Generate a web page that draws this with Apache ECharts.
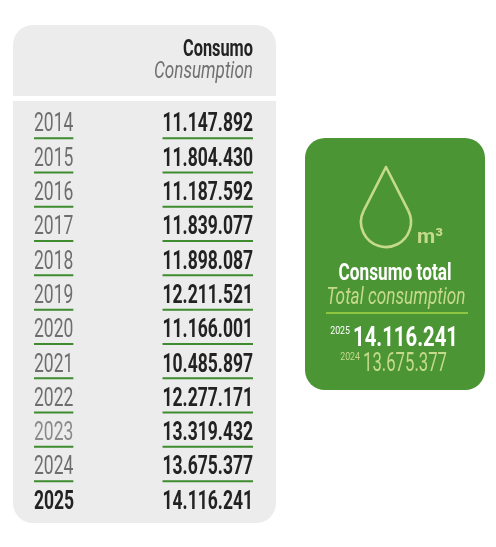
<!DOCTYPE html>
<html><head><meta charset="utf-8">
<script src="https://cdn.jsdelivr.net/npm/echarts@6/dist/echarts.min.js"></script>
<style>html,body{margin:0;padding:0;background:#fff}#c{width:496px;height:547px}</style>
</head><body><div id="c"></div>
<script>
const years = ['2014','2015','2016','2017','2018','2019','2020','2021','2022','2023','2024','2025'];
const consumption = [11147892, 11804430, 11187592, 11839077, 11898087, 12211521, 11166001, 10485897, 12277171, 13319432, 13675377, 14116241];
const headerLabels = ['Consumo', 'Consumption'];
const totalLabels = ['Consumo total', 'Total consumption'];
const unitLabel = 'm³';

const FONT = "Roboto, 'DejaVu Sans', sans-serif";
const SX = 0.70; // horizontal condensing of the table text
function fmt(v){ return String(v).replace(/\B(?=(\d{3})+(?!\d))/g, '.'); }
const mctx = document.createElement('canvas').getContext('2d');
function textW(str, size, weight, style){ mctx.font = (style || 'normal') + ' ' + (weight || 'normal') + ' ' + size + 'px ' + FONT; return mctx.measureText(str).width; }
function fitScale(str, size, weight, style, target){ return target / textW(str, size, weight, style); }

const GREEN_LINE = '#3e8c2f';
const LIGHT = '#c6da8c';
const n = years.length;
const lastI = n - 1, prevI = n - 2;

// drop icon geometry
const dcx = 386, dcy = 222, dr = 25, apexY = 167;
const dd = dcy - apexY;
const phi = Math.acos(dr / dd);
const aR = -Math.PI / 2 + phi, aL = -Math.PI / 2 - phi;
const rx = dcx + dr * Math.cos(aR), ry = dcy + dr * Math.sin(aR);
const lx = dcx + dr * Math.cos(aL), ly = dcy + dr * Math.sin(aL);

function txt(x, y, text, size, weight, style, fill, align, scale) {
  return {type: 'text', z: 1, x: x, y: y, scaleX: scale, scaleY: 1,
    style: {x: 0, y: 0, text: text, fontFamily: FONT, fontSize: size, fontWeight: weight, fontStyle: style, fill: fill, align: align, verticalAlign: 'middle'}};
}

const chart = echarts.init(document.getElementById('c'), null, {renderer: 'canvas'});
chart.setOption({
  animation: false,
  backgroundColor: '#ffffff',
  grid: {left: 13, width: 263, top: 108, height: 411.6},
  xAxis: {type: 'value', min: 0, max: 263, show: false},
  yAxis: {type: 'category', data: years, inverse: true, show: false},
  graphic: [
    {type: 'rect', z: 0, shape: {x: 13, y: 25, width: 263, height: 498, r: 20}, style: {fill: '#ececec'}},
    {type: 'rect', z: 1, shape: {x: 13, y: 96, width: 263, height: 5}, style: {fill: '#ffffff'}},
    txt(253, 50, headerLabels[0], 24, 'bold', 'normal', '#222', 'right', fitScale(headerLabels[0], 24, 'bold', 'normal', 70)),
    txt(253, 72, headerLabels[1], 24, 'normal', 'italic', '#707070', 'right', fitScale(headerLabels[1], 24, 'normal', 'italic', 99)),
    {type: 'rect', z: 0, shape: {x: 305, y: 138, width: 180, height: 252, r: 20}, style: {fill: '#4b9535'}},
    {type: 'arc', z: 1, shape: {cx: dcx, cy: dcy, r: dr, startAngle: aR, endAngle: aL + 2 * Math.PI, clockwise: true}, style: {stroke: LIGHT, lineWidth: 2.6, fill: 'none'}},
    {type: 'polyline', z: 1, shape: {points: [[rx, ry], [dcx, apexY], [lx, ly]]}, style: {stroke: LIGHT, lineWidth: 2.6, fill: 'none', lineJoin: 'round'}},
    txt(417, 238, unitLabel, 21, 'bold', 'normal', LIGHT, 'left', 1),
    txt(395, 274, totalLabels[0], 23, 'bold', 'normal', '#ffffff', 'center', fitScale(totalLabels[0], 23, 'bold', 'normal', 113)),
    txt(396, 298, totalLabels[1], 23, 'normal', 'italic', LIGHT, 'center', fitScale(totalLabels[1], 23, 'normal', 'italic', 139)),
    {type: 'rect', z: 1, shape: {x: 326, y: 312, width: 142, height: 2}, style: {fill: '#8dc63f'}},
    txt(350, 331, years[lastI], 11, 'normal', 'normal', '#ffffff', 'right', 0.8),
    txt(353, 339, fmt(consumption[lastI]), 28, 'bold', 'normal', '#ffffff', 'left', fitScale(fmt(consumption[lastI]), 28, 'bold', 'normal', 105)),
    txt(360, 357, years[prevI], 11, 'normal', 'normal', LIGHT, 'right', 0.8),
    txt(363, 364, fmt(consumption[prevI]), 26, 'normal', 'normal', LIGHT, 'left', fitScale(fmt(consumption[prevI]), 26, 'normal', 'normal', 84))
  ],
  series: [{
    type: 'custom',
    z: 5,
    data: years.map((y, i) => [0, i, consumption[i]]),
    encode: {x: 0, y: 1},
    renderItem: function (params, api) {
      const idx = api.value(1);
      const v = api.value(2);
      const p = api.coord([0, idx]);
      const left = p[0], cy = p[1];
      const isLast = idx === n - 1;
      const yearStr = years[idx];
      const valStr = fmt(v);
      const fs = 25;
      const yearColor = isLast ? '#222' : (yearStr === '2023' ? '#8a8a8a' : '#6e6e6e');
      const children = [
        {type: 'text', x: left + 21, y: cy, scaleX: SX, style: {x: 0, y: 0, text: yearStr, fontFamily: FONT, fontSize: fs, fontWeight: isLast ? 'bold' : 'normal', fill: yearColor, align: 'left', verticalAlign: 'middle'}},
        {type: 'text', x: left + 240, y: cy, scaleX: SX, style: {x: 0, y: 0, text: valStr, fontFamily: FONT, fontSize: fs, fontWeight: 'bold', fill: '#222', align: 'right', verticalAlign: 'middle'}}
      ];
      if (!isLast) {
        const yw = textW(yearStr, fs, 'normal') * SX;
        const vw = textW(valStr, fs, 'bold') * SX;
        children.push({type: 'rect', shape: {x: left + 21, y: cy + 12, width: yw, height: 2}, style: {fill: GREEN_LINE}});
        children.push({type: 'rect', shape: {x: left + 240 - vw, y: cy + 12, width: vw, height: 2}, style: {fill: GREEN_LINE}});
      }
      return {type: 'group', children: children};
    }
  }]
});
</script>
</body></html>
